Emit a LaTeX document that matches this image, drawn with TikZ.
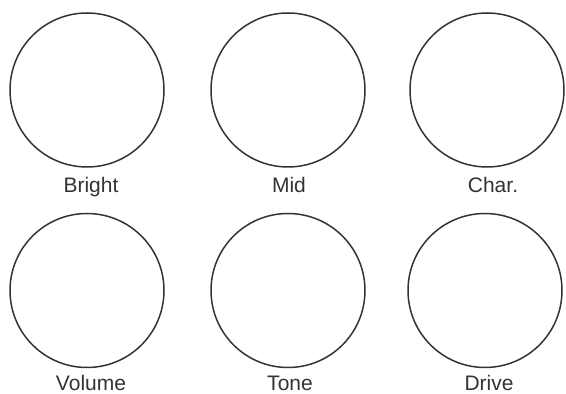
\documentclass[tikz,border=0pt]{standalone}
\usepackage{fontspec}
\setmainfont{Liberation Sans}
\begin{document}
\begin{tikzpicture}[x=1pt,y=1pt,
  knob/.style={circle,draw=black!80,line width=1.5pt,minimum size=154pt,inner sep=0pt},
  lbl/.style={anchor=base,text=black!80,font=\fontsize{21}{24}\selectfont,inner sep=0pt}]
\useasboundingbox (0,0) rectangle (566,394);
\node[knob] (k1) at (87,304) {};
\node[knob] (k2) at (288,304) {};
\node[knob] (k3) at (487,304) {};
\node[knob] (k4) at (87,103.5) {};
\node[knob] (k5) at (288,103.5) {};
\node[knob] (k6) at (485,103.5) {};
\node[lbl] (l1) at (91,201) {Bright};
\node[lbl] (l2) at (289,201) {Mid};
\node[lbl] (l3) at (493,201) {Char.};
\node[lbl] (l4) at (91,3) {Volume};
\node[lbl] (l5) at (290,3) {Tone};
\node[lbl] (l6) at (489,3) {Drive};
\end{tikzpicture}
\end{document}
